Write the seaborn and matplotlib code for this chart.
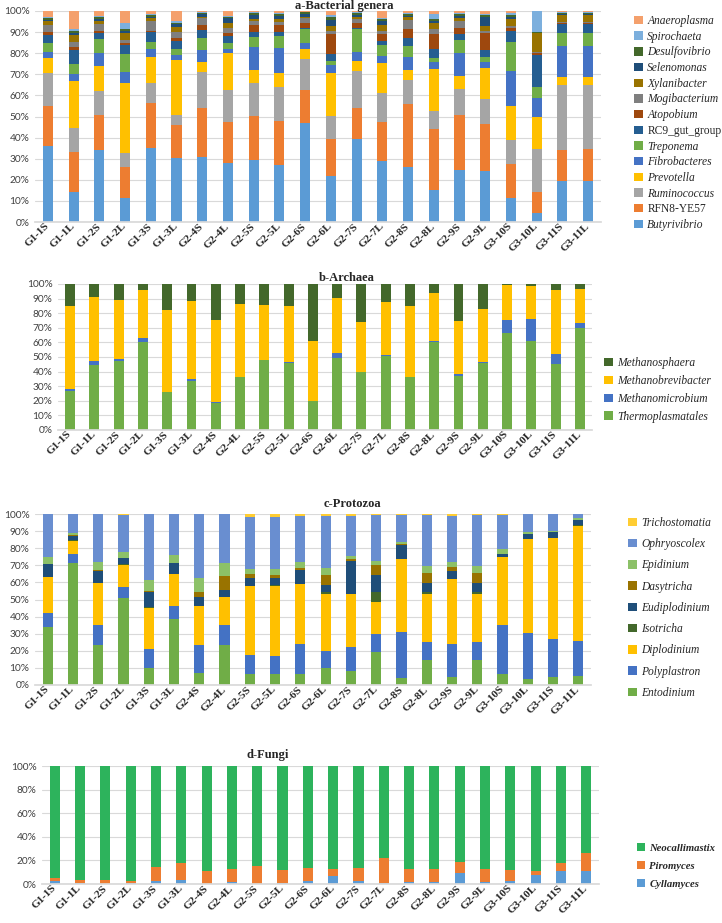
import numpy as np
import pandas as pd
import matplotlib
matplotlib.use("Agg")
import matplotlib.pyplot as plt
import seaborn as sns
from matplotlib.patches import Patch
from matplotlib.ticker import PercentFormatter, MultipleLocator

samples = ['G1-1S', 'G1-1L', 'G1-2S', 'G1-2L', 'G1-3S', 'G1-3L', 'G2-4S', 'G2-4L',
           'G2-5S', 'G2-5L', 'G2-6S', 'G2-6L', 'G2-7S', 'G2-7L', 'G2-8S', 'G2-8L',
           'G2-9S', 'G2-9L', 'G3-10S', 'G3-10L', 'G3-11S', 'G3-11L']

# a - bacterial genera (relative abundance, %), bottom -> top
butyrivibrio = [35.8, 14.0, 33.9, 11.4, 35.3, 30.3, 30.8, 27.9, 29.5, 26.8, 46.8, 21.9, 39.4, 28.7, 26.3, 15.3, 24.8, 24.0, 11.4, 4.3, 19.2, 19.5]
rfn8 = [19.0, 19.0, 16.6, 14.6, 21.3, 15.8, 23.1, 19.7, 20.5, 21.1, 15.8, 17.4, 14.5, 18.9, 29.5, 28.7, 26.0, 22.5, 16.0, 9.9, 15.0, 15.0]
ruminococcus = [15.7, 11.5, 11.6, 6.6, 9.2, 4.7, 17.4, 15.0, 16.1, 16.0, 14.5, 11.0, 17.7, 13.4, 11.6, 8.7, 12.1, 11.7, 11.6, 20.5, 30.8, 30.5]
prevotella = [7.0, 22.5, 11.9, 33.2, 12.3, 26.0, 4.7, 17.4, 6.0, 6.6, 4.9, 20.5, 4.7, 14.2, 4.7, 19.9, 6.3, 15.0, 16.2, 15.3, 3.9, 3.9]
fibrobacteres = [3.3, 3.2, 6.0, 5.5, 3.8, 2.4, 5.5, 1.9, 11.0, 12.1, 3.0, 3.5, 4.5, 3.5, 6.3, 3.3, 11.1, 2.4, 16.4, 9.0, 14.7, 14.7]
treponema = [4.0, 4.6, 6.6, 8.4, 3.6, 2.7, 5.9, 3.1, 4.8, 5.6, 6.3, 2.0, 10.5, 5.2, 5.0, 2.0, 6.0, 2.8, 13.9, 5.2, 5.8, 5.8]
rc9 = [4.0, 6.7, 3.1, 4.2, 4.4, 4.1, 3.6, 3.2, 2.0, 2.0, 0.8, 3.2, 0.8, 2.1, 4.0, 4.0, 2.8, 3.1, 5.2, 15.0, 4.4, 4.4]
atopobium = [1.2, 1.3, 0.7, 0.8, 0.8, 1.1, 2.4, 1.5, 3.5, 3.2, 2.4, 9.6, 2.4, 3.1, 4.1, 7.4, 3.0, 7.9, 1.4, 0.8, 0.4, 0.4]
mogibacterium = [3.5, 2.7, 3.4, 1.6, 4.7, 3.1, 3.1, 2.1, 2.0, 1.6, 2.0, 1.6, 1.6, 1.6, 4.2, 2.2, 3.3, 1.3, 0.8, 0.8, 0.8, 0.8]
xylanibacter = [1.6, 3.1, 1.5, 3.1, 1.1, 2.4, 0.8, 2.7, 0.8, 1.1, 0.8, 2.2, 0.9, 2.7, 1.3, 2.7, 1.1, 2.2, 3.2, 8.9, 3.1, 3.1]
selenomonas = [0.7, 1.1, 0.9, 1.3, 0.8, 1.2, 1.3, 2.0, 1.9, 1.5, 1.3, 2.8, 1.1, 2.0, 0.6, 1.1, 1.1, 4.4, 1.2, 0.0, 0.5, 0.5]
desulfovibrio = [0.9, 0.7, 1.0, 0.6, 0.8, 0.7, 0.6, 0.8, 0.8, 0.8, 0.8, 1.6, 0.8, 1.0, 1.0, 0.8, 1.0, 0.8, 0.8, 0.5, 0.3, 0.3]
spirochaeta = [0.3, 0.9, 0.6, 3.2, 0.3, 0.6, 0.3, 0.5, 0.5, 0.8, 0.3, 0.8, 0.5, 0.4, 0.6, 2.5, 0.6, 0.5, 0.8, 9.8, 0.8, 0.8]
anaeroplasma = [3.0, 8.7, 2.2, 5.5, 1.6, 4.9, 0.5, 2.2, 0.6, 0.8, 0.3, 1.9, 0.6, 3.2, 0.8, 1.4, 0.8, 1.4, 1.1, 0.0, 0.3, 0.3]

# b - archaea
thermoplasmatales = [27.0, 44.6, 47.3, 60.6, 25.8, 33.6, 18.7, 36.1, 48.0, 46.2, 19.9, 49.6, 39.5, 50.7, 36.3, 60.1, 37.3, 46.2, 66.1, 60.8, 45.3, 70.0]
methanomicrobium = [0.9, 2.9, 1.4, 2.3, 0.5, 1.1, 0.3, 0.5, 0.2, 0.2, 0.2, 3.4, 0.5, 0.7, 0.3, 0.9, 1.1, 0.2, 8.9, 15.3, 6.8, 3.5]
methanobrevibacter = [56.7, 43.8, 40.3, 33.0, 56.0, 53.8, 56.0, 49.8, 37.5, 38.6, 40.9, 37.6, 33.8, 36.6, 48.0, 32.6, 36.3, 36.6, 24.0, 22.7, 43.9, 23.0]
methanosphaera = [15.4, 8.7, 11.0, 4.1, 17.7, 11.5, 25.0, 13.6, 14.3, 15.0, 39.0, 9.4, 26.2, 12.0, 15.4, 6.4, 25.3, 17.0, 1.0, 1.2, 4.0, 3.5]

# c - protozoa
entodinium = [33.7, 71.5, 23.4, 50.7, 10.1, 38.6, 6.8, 23.4, 6.4, 6.4, 6.4, 9.7, 8.2, 19.5, 3.9, 14.6, 4.9, 14.6, 6.2, 3.3, 4.5, 5.3]
polyplastron = [8.2, 4.9, 11.7, 6.4, 11.0, 7.6, 16.6, 11.7, 11.1, 10.8, 17.4, 10.2, 14.2, 10.1, 27.3, 10.7, 18.9, 10.7, 28.9, 26.9, 22.2, 20.4]
diplodinium = [21.1, 8.0, 24.4, 13.1, 24.1, 18.7, 22.8, 16.2, 40.4, 40.9, 35.1, 33.1, 30.6, 19.1, 42.3, 27.7, 38.0, 27.7, 39.6, 55.2, 59.1, 67.5]
isotricha = [0.4, 0.2, 0.3, 0.4, 0.2, 0.2, 0.2, 0.2, 0.2, 0.2, 0.2, 1.4, 0.2, 5.9, 0.2, 1.2, 0.2, 1.4, 0.2, 0.2, 0.2, 0.2]
eudiplodinium = [7.2, 2.7, 7.1, 3.5, 9.2, 6.1, 5.3, 4.1, 4.7, 4.5, 8.2, 4.1, 19.3, 9.7, 8.2, 5.6, 4.9, 5.4, 1.5, 2.5, 3.3, 3.1]
dasytricha = [0.2, 0.2, 0.2, 0.2, 0.2, 0.1, 2.5, 8.3, 2.1, 1.3, 1.3, 5.8, 1.0, 5.7, 0.4, 5.5, 2.3, 5.5, 0.2, 0.2, 0.2, 0.2]
epidinium = [3.9, 1.4, 5.0, 3.5, 6.6, 4.5, 8.2, 7.6, 2.9, 3.5, 3.5, 3.9, 1.9, 2.5, 1.1, 4.5, 2.9, 4.5, 2.7, 1.4, 0.6, 0.8]
ophryoscolex = [25.3, 11.1, 27.9, 21.6, 38.6, 24.2, 37.6, 28.5, 30.6, 30.8, 26.9, 30.8, 23.4, 26.7, 16.2, 29.4, 26.9, 29.4, 20.3, 10.3, 9.9, 2.5]
trichostomatia = [0.0, 0.0, 0.0, 0.6, 0.0, 0.0, 0.0, 0.0, 1.6, 1.6, 1.0, 1.0, 1.2, 0.8, 0.4, 0.8, 1.0, 0.8, 0.4, 0.0, 0.0, 0.0]

# d - fungi
cyllamyces = [2.3, 0.8, 0.3, 0.8, 2.3, 3.1, 0.3, 2.0, 0.3, 0.8, 2.3, 6.5, 2.3, 1.1, 1.7, 2.0, 9.6, 2.0, 2.5, 7.9, 11.0, 11.0]
piromyces = [2.8, 2.9, 3.4, 1.7, 11.8, 14.4, 11.0, 10.7, 14.6, 11.3, 11.5, 6.5, 11.5, 20.6, 10.7, 11.0, 9.3, 11.0, 9.3, 3.4, 7.0, 15.0]
neocallimastix = [94.9, 96.3, 96.3, 97.5, 85.9, 82.5, 88.7, 87.3, 85.1, 87.9, 86.2, 87.0, 86.2, 78.3, 87.6, 87.0, 81.1, 87.0, 88.2, 88.7, 82.0, 74.0]

bact = [("Butyrivibrio", butyrivibrio, "#5B9BD5"), ("RFN8-YE57", rfn8, "#ED7D31"),
        ("Ruminococcus", ruminococcus, "#A5A5A5"), ("Prevotella", prevotella, "#FFC000"),
        ("Fibrobacteres", fibrobacteres, "#4472C4"), ("Treponema", treponema, "#70AD47"),
        ("RC9_gut_group", rc9, "#255E91"), ("Atopobium", atopobium, "#9E480E"),
        ("Mogibacterium", mogibacterium, "#7F7F7F"), ("Xylanibacter", xylanibacter, "#997300"),
        ("Selenomonas", selenomonas, "#1F4E79"), ("Desulfovibrio", desulfovibrio, "#43682B"),
        ("Spirochaeta", spirochaeta, "#7CAFDD"), ("Anaeroplasma", anaeroplasma, "#F4A06C")]
arch = [("Thermoplasmatales", thermoplasmatales, "#70AD47"),
        ("Methanomicrobium", methanomicrobium, "#4472C4"),
        ("Methanobrevibacter", methanobrevibacter, "#FFC000"),
        ("Methanosphaera", methanosphaera, "#43682B")]
prot = [("Entodinium", entodinium, "#70AD47"), ("Polyplastron", polyplastron, "#4472C4"),
        ("Diplodinium", diplodinium, "#FFC000"), ("Isotricha", isotricha, "#43682B"),
        ("Eudiplodinium", eudiplodinium, "#1F4E79"), ("Dasytricha", dasytricha, "#997300"),
        ("Epidinium", epidinium, "#8CC168"), ("Ophryoscolex", ophryoscolex, "#698ED0"),
        ("Trichostomatia", trichostomatia, "#FFCD33")]
fungi = [("Cyllamyces", cyllamyces, "#5B9BD5"), ("Piromyces", piromyces, "#ED7D31"),
         ("Neocallimastix", neocallimastix, "#2DB35C")]

sns.set_theme(style="whitegrid")
plt.rcParams['font.family'] = ['Lato', 'DejaVu Sans']

W, H = 722, 923
fig = plt.figure(figsize=(W / 100, H / 100), dpi=100)


def stacked(box, groups, width, step):
    # box in pixels: left, top, right, bottom
    l, t, r, b = box
    ax = fig.add_axes([l / W, 1 - b / H, (r - l) / W, (b - t) / H])
    total = np.zeros(len(samples))
    cums = []
    for name, vals, color in groups:
        total = total + np.array(vals)
        cums.append(total.copy())
    for (name, vals, color), cum in reversed(list(zip(groups, cums))):
        df = pd.DataFrame({"sample": samples, "pct": cum / total * 100})
        sns.barplot(data=df, x="sample", y="pct", order=samples, color=color,
                    width=width, saturation=1, linewidth=0, ax=ax)
    ax.set_xlim(-0.5, len(samples) - 0.5)
    ax.set_ylim(0, 100)
    ax.yaxis.set_major_locator(MultipleLocator(step))
    ax.yaxis.set_major_formatter(PercentFormatter(xmax=100, decimals=0))
    ax.set_xlabel("")
    ax.set_ylabel("")
    ax.grid(axis='y', color='#D9D9D9', linewidth=0.8)
    ax.grid(axis='x', visible=False)
    ax.set_axisbelow(True)
    for s in ['left', 'top', 'right']:
        ax.spines[s].set_visible(False)
    ax.spines['bottom'].set_color('#D9D9D9')
    ax.tick_params(axis='y', length=0, pad=4, labelsize=7.3, labelcolor='#404040')
    ax.tick_params(axis='x', length=0, pad=2)
    ax.set_xticks(range(len(samples)))
    ax.set_xticklabels(samples, rotation=45, ha='right', va='center',
                       rotation_mode='anchor', family='Liberation Serif',
                       fontweight='bold', fontsize=8)
    return ax


def add_legend(groups, x, y, spacing, size=8.3, nonitalic=(), bold=False):
    handles = [Patch(facecolor=c, edgecolor='none') for n, v, c in groups][::-1]
    labels = [n for n, v, c in groups][::-1]
    leg = fig.legend(handles, labels, loc='upper left', bbox_to_anchor=(x / W, 1 - y / H),
                     frameon=False, handlelength=0.75, handleheight=0.75, handletextpad=0.4,
                     labelspacing=spacing, borderpad=0, borderaxespad=0,
                     prop={'family': 'Liberation Serif', 'size': size,
                           'weight': 'bold' if bold else 'normal'})
    for txt in leg.get_texts():
        if txt.get_text() not in nonitalic:
            txt.set_style('italic')
    return leg


stacked((35, 11, 601, 222), bact, 0.39, 10)
stacked((58, 284, 592, 430), arch, 0.41, 10)
stacked((35, 514, 591, 685), prot, 0.40, 10)
stacked((42, 766, 599, 884), fungi, 0.40, 20)

title_kw = dict(ha='center', va='center', family='Liberation Serif', fontweight='bold', fontsize=9)
fig.text(344 / W, 1 - 6 / H, "a-Bacterial genera", **title_kw)
fig.text(347 / W, 1 - 278 / H, "b-Archaea", **title_kw)
fig.text(352 / W, 1 - 504 / H, "c-Protozoa", **title_kw)
fig.text(268 / W, 1 - 755 / H, "d-Fungi", **title_kw)

add_legend(bact, 634, 15, 0.32, nonitalic=("RFN8-YE57", "RC9_gut_group"))
add_legend(arch, 604, 357, 0.51)
add_legend(prot, 628, 517, 0.8)
add_legend(fungi, 637, 843, 0.78, size=7.7, bold=True)

fig.savefig("out.png", dpi=100)
